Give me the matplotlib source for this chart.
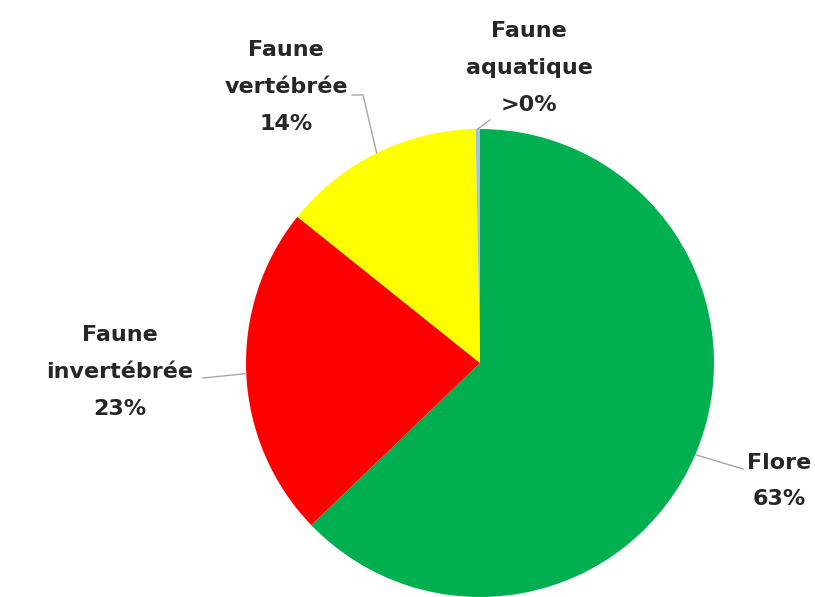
import numpy as np
import matplotlib.pyplot as plt

plt.rcParams['font.family'] = ['DejaVu Sans']

# data
labels = ['Flore', 'Faune\ninvertébrée', 'Faune\nvertébrée', 'Faune\naquatique']
values = [63, 23, 14, 0.3]
pct_text = ['63%', '23%', '14%', '>0%']
colors = ['#00B050', '#FF0000', '#FFFF00', '#9DC3E6']

# label layout in pixels (top-left origin): text centre, leader end, optional elbow
text_pos = [(779, 481), (120, 372), (286, 87), (529, 68)]
leader_end = [(743, 469), (203, 378), (352, 95), (490, 120)]
leader_elbow = [None, None, (363, 95), None]

W, H = 815, 597
fig = plt.figure(figsize=(W / 100, H / 100), dpi=100)
ax = fig.add_axes([0, 0, 1, 1])

cx, cy, r = 480, H - 363, 234
wedges, _ = ax.pie(values, colors=colors, startangle=90, counterclock=False,
                   center=(cx, cy), radius=r)
ax.set_xlim(0, W)
ax.set_ylim(0, H)
ax.set_aspect('equal')
ax.axis('off')

for w, lab, pct, tp, le, el in zip(wedges, labels, pct_text, text_pos,
                                   leader_end, leader_elbow):
    mid = np.deg2rad((w.theta1 + w.theta2) / 2)
    ax0, ay0 = cx + r * np.cos(mid), cy + r * np.sin(mid)
    xs, ys = [ax0], [ay0]
    if el is not None:
        xs.append(el[0]); ys.append(H - el[1])
    xs.append(le[0]); ys.append(H - le[1])
    ax.plot(xs, ys, color='#a6a6a6', lw=1.0, zorder=1)
    ax.text(tp[0], H - tp[1], f'{lab}\n{pct}', ha='center', va='center',
            fontsize=16, fontweight='bold', color='#262626', linespacing=2.05)

fig.savefig('out.png', dpi=100)
